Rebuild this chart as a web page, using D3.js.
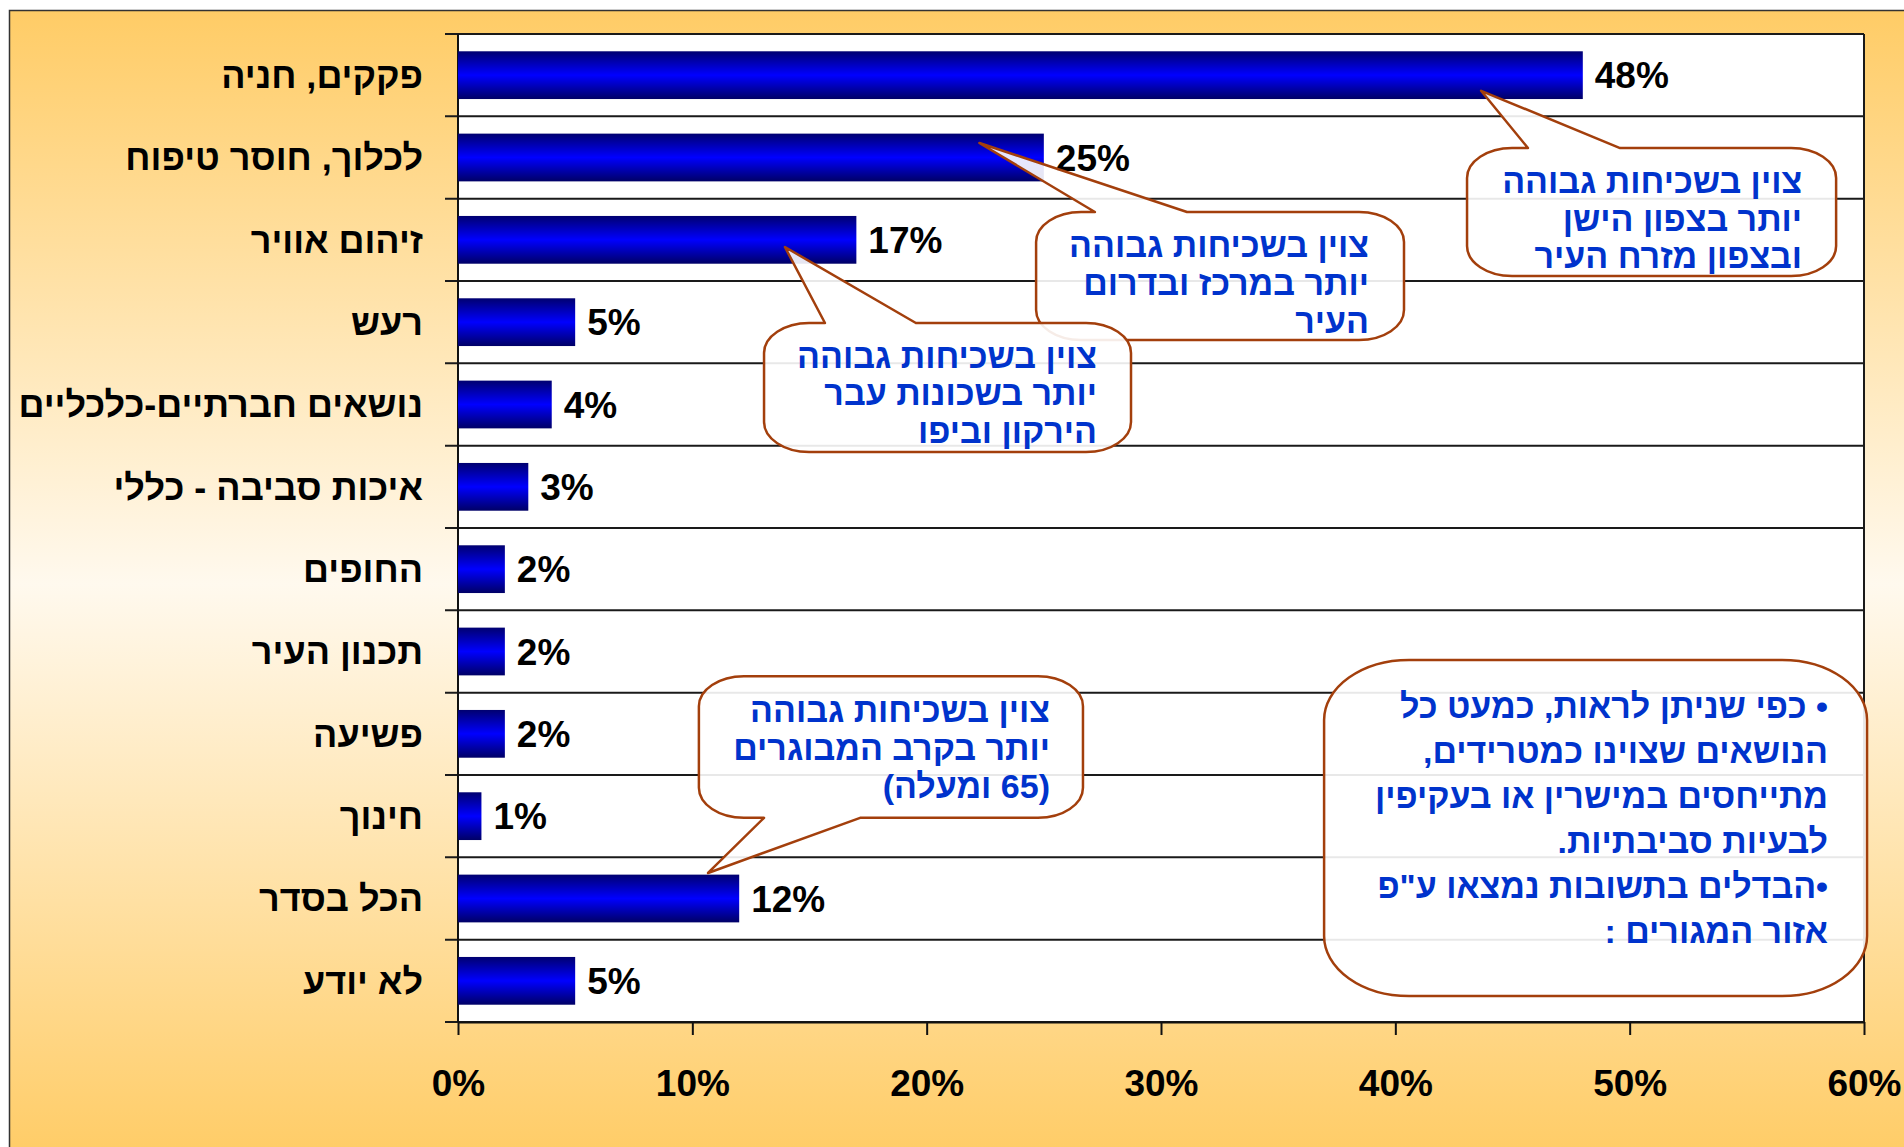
<!DOCTYPE html>
<html lang="he">
<head>
<meta charset="utf-8">
<script src="https://cdn.jsdelivr.net/npm/d3@7"></script>
<style>
  html, body { margin: 0; padding: 0; background: #fff; }
  svg { display: block; }
  text { font-family: "Liberation Sans", Arial, sans-serif; font-weight: bold; }
</style>
</head>
<body>
<svg id="chart" width="1904" height="1147"></svg>
<script>
// chart data
const categories = ["פקקים, חניה", "לכלוך, חוסר טיפוח", "זיהום אוויר", "רעש",
  "נושאים חברתיים-כלכליים", "איכות סביבה - כללי", "החופים", "תכנון העיר",
  "פשיעה", "חינוך", "הכל בסדר", "לא יודע"];
const values = [48, 25, 17, 5, 4, 3, 2, 2, 2, 1, 12, 5];
const xTicks = [0, 10, 20, 30, 40, 50, 60];

// callout texts
const noteNorth = ["צוין בשכיחות גבוהה", "יותר בצפון הישן", "ובצפון מזרח העיר"];
const noteCenter = ["צוין בשכיחות גבוהה", "יותר במרכז ובדרום", "העיר"];
const noteJaffa = ["צוין בשכיחות גבוהה", "יותר בשכונות עבר", "הירקון וביפו"];
const noteElderly = ["צוין בשכיחות גבוהה", "יותר בקרב המבוגרים", "(65 ומעלה)"];
const noteSummary = ["• כפי שניתן לראות, כמעט כל", "הנושאים שצוינו כמטרידים,",
  "מתייחסים במישרין או בעקיפין", "לבעיות סביבתיות.", "•הבדלים בתשובות נמצאו ע\"פ",
  "אזור המגורים :"];

const svg = d3.select("#chart");
const W = +svg.attr("width");
const H = +svg.attr("height");
const plot = { left: 458, right: 1864, top: 34, bottom: 1022 };

// gradients
const defs = svg.append("defs");
const panelGrad = defs.append("linearGradient").attr("id", "panelFill")
  .attr("x1", 0).attr("y1", 0).attr("x2", 0).attr("y2", 1);
panelGrad.append("stop").attr("offset", "0%").attr("stop-color", "#ffcc66");
panelGrad.append("stop").attr("offset", "50%").attr("stop-color", "#fff9ee");
panelGrad.append("stop").attr("offset", "100%").attr("stop-color", "#ffcc66");

const barGrad = defs.append("linearGradient").attr("id", "barFill")
  .attr("x1", 0).attr("y1", 0).attr("x2", 0).attr("y2", 1);
barGrad.append("stop").attr("offset", "0%").attr("stop-color", "#000070");
barGrad.append("stop").attr("offset", "50%").attr("stop-color", "#0000ff");
barGrad.append("stop").attr("offset", "100%").attr("stop-color", "#000066");

// background panel
svg.append("rect")
  .attr("x", 9.5).attr("y", 10.5)
  .attr("width", W).attr("height", H)
  .attr("fill", "url(#panelFill)")
  .attr("stroke", "#333").attr("stroke-width", 1.5);

svg.append("rect")
  .attr("x", plot.left).attr("y", plot.top)
  .attr("width", plot.right - plot.left).attr("height", plot.bottom - plot.top)
  .attr("fill", "#fff");

// scales
const x = d3.scaleLinear().domain([0, 60]).range([plot.left, plot.right]);
const y = d3.scaleBand().domain(categories).range([plot.top, plot.bottom])
  .paddingInner(0.42).paddingOuter(0.21);
const row = d3.scaleLinear().domain([0, categories.length]).range([plot.top, plot.bottom]);

// category separators + left ticks
svg.append("g")
  .selectAll("line")
  .data(d3.range(categories.length + 1))
  .join("line")
  .attr("x1", plot.left - 13).attr("x2", plot.right)
  .attr("y1", (d) => row(d)).attr("y2", (d) => row(d))
  .attr("stroke", "#1a1a1a").attr("stroke-width", 2);

svg.append("line")
  .attr("x1", plot.right).attr("x2", plot.right)
  .attr("y1", plot.top).attr("y2", plot.bottom)
  .attr("stroke", "#1a1a1a").attr("stroke-width", 2);

svg.append("line")
  .attr("x1", plot.left).attr("x2", plot.left)
  .attr("y1", plot.top).attr("y2", plot.bottom)
  .attr("stroke", "#111").attr("stroke-width", 2);

// x axis
const xAxis = svg.append("g")
  .attr("transform", "translate(0," + plot.bottom + ")")
  .call(d3.axisBottom(x).tickValues(xTicks).tickSize(13).tickSizeOuter(0)
    .tickFormat((d) => d + "%"));
xAxis.select(".domain").attr("stroke", "#111").attr("stroke-width", 2);
xAxis.selectAll(".tick line").attr("stroke", "#111").attr("stroke-width", 2);
xAxis.selectAll(".tick text")
  .attr("y", 48).attr("dy", "0.71em")
  .attr("font-size", "37px")
  .attr("font-family", "'Liberation Sans', Arial, sans-serif")
  .attr("font-weight", "bold")
  .attr("fill", "#000");

// bars
const bars = svg.append("g");
bars.selectAll("rect")
  .data(categories)
  .join("rect")
  .attr("x", plot.left)
  .attr("y", (d) => y(d))
  .attr("width", (d, i) => x(values[i]) - plot.left)
  .attr("height", y.bandwidth())
  .attr("fill", "url(#barFill)");

// value labels
bars.selectAll("text")
  .data(categories)
  .join("text")
  .attr("x", (d, i) => x(values[i]) + 12)
  .attr("y", (d) => y(d) + y.bandwidth() / 2)
  .attr("dy", "0.36em")
  .attr("font-size", "37px")
  .attr("fill", "#000")
  .text((d, i) => values[i] + "%");

// category labels
svg.append("g")
  .selectAll("text")
  .data(categories)
  .join("text")
  .attr("x", 423)
  .attr("y", (d) => y(d) + y.bandwidth() / 2)
  .attr("dy", "0.36em")
  .attr("direction", "rtl")
  .attr("text-anchor", "start")
  .attr("font-size", "36px")
  .attr("fill", "#000")
  .text((d) => d);

// callouts: box in (% , row) units, wedge tip in the same units
const callouts = [
  { lines: noteNorth, box: [43.06, 1.385, 58.81, 2.94], r: [45, 30], lh: 37.5, pad: 34, first: 45,
    wedge: { side: "top", b1: 45.66, b2: 49.59, tx: 43.66, ty: 0.69 } },
  { lines: noteCenter, box: [24.67, 2.162, 40.37, 3.717], r: [45, 30], lh: 38, pad: 35, first: 45,
    wedge: { side: "top", b1: 27.18, b2: 31.11, tx: 22.25, ty: 1.324 } },
  { lines: noteJaffa, box: [13.06, 3.51, 28.72, 5.077], r: [45, 30], lh: 37.5, pad: 34, first: 45,
    wedge: { side: "top", b1: 15.66, b2: 19.54, tx: 13.95, ty: 2.587 } },
  { lines: noteElderly, box: [10.28, 7.80, 26.67, 9.52], r: [45, 30], lh: 38, pad: 33, first: 46,
    wedge: { side: "bottom", b1: 13.06, b2: 17.16, tx: 10.67, ty: 10.19 } },
  { lines: noteSummary, box: [36.96, 7.603, 60.13, 11.684], r: [85, 60], lh: 45, pad: 39, first: 58,
    wedge: null }
];

function calloutPath(c) {
  const x0 = x(c.box[0]), y0 = row(c.box[1]), x1 = x(c.box[2]), y1 = row(c.box[3]);
  const rx = c.r[0], ry = c.r[1];
  const w = c.wedge;
  let p = "M" + (x0 + rx) + "," + y0;
  if (w && w.side === "top") {
    p += "L" + x(w.b1) + "," + y0 + "L" + x(w.tx) + "," + row(w.ty) + "L" + x(w.b2) + "," + y0;
  }
  p += "L" + (x1 - rx) + "," + y0;
  p += "A" + rx + "," + ry + " 0 0 1 " + x1 + "," + (y0 + ry);
  p += "L" + x1 + "," + (y1 - ry);
  p += "A" + rx + "," + ry + " 0 0 1 " + (x1 - rx) + "," + y1;
  if (w && w.side === "bottom") {
    p += "L" + x(w.b2) + "," + y1 + "L" + x(w.tx) + "," + row(w.ty) + "L" + x(w.b1) + "," + y1;
  }
  p += "L" + (x0 + rx) + "," + y1;
  p += "A" + rx + "," + ry + " 0 0 1 " + x0 + "," + (y1 - ry);
  p += "L" + x0 + "," + (y0 + ry);
  p += "A" + rx + "," + ry + " 0 0 1 " + (x0 + rx) + "," + y0;
  return p + "Z";
}

const notes = svg.append("g")
  .selectAll("g")
  .data(callouts)
  .join("g");

notes.append("path")
  .attr("d", (c) => calloutPath(c))
  .attr("fill", "#fff").attr("fill-opacity", 0.9)
  .attr("stroke", "#a33f0c").attr("stroke-width", 2.5)
  .attr("stroke-linejoin", "round");

notes.each(function (c) {
  d3.select(this).selectAll("text")
    .data(c.lines)
    .join("text")
    .attr("x", x(c.box[2]) - c.pad)
    .attr("y", (d, i) => row(c.box[1]) + c.first + i * c.lh)
    .attr("direction", "rtl")
    .attr("text-anchor", "start")
    .attr("font-size", "34px")
    .attr("fill", "#0033cc")
    .text((d) => d);
});
</script>
</body>
</html>
